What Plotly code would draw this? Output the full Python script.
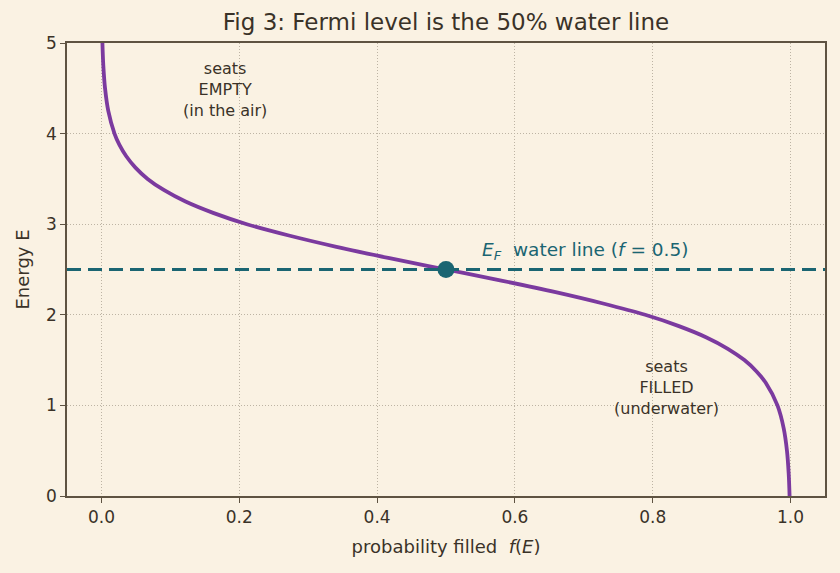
import plotly.graph_objects as go

# Energy levels (y) and occupation probability f(E) (x)
energy = [5.0, 4.75, 4.5, 4.25, 4.0, 3.875, 3.75, 3.625, 3.5, 3.375, 3.25, 3.125, 3.0,
          2.875, 2.75, 2.625, 2.5, 2.375, 2.25, 2.125, 2.0, 1.875, 1.75, 1.625, 1.5,
          1.375, 1.25, 1.0, 0.75, 0.5, 0.25, 0.0]
f_occ = [0.0014, 0.0027, 0.0052, 0.0099, 0.0189, 0.0261, 0.036, 0.0493, 0.067, 0.091,
         0.122, 0.162, 0.211, 0.272, 0.341, 0.418, 0.5, 0.582, 0.659, 0.728, 0.789,
         0.838, 0.878, 0.909, 0.933, 0.9507, 0.964, 0.981, 0.990, 0.9948, 0.9973, 0.9986]
fermi_level = 2.5
fermi_f = 0.5
x_ticks = [0, 0.2, 0.4, 0.6, 0.8, 1.0]
x_ticklabels = ["0.0", "0.2", "0.4", "0.6", "0.8", "1.0"]
y_ticks = [0, 1, 2, 3, 4, 5]

bg = "#faf2e3"
ink = "#3a3228"
frame = "#5e5342"
purple = "#7b3a9f"
teal = "#1a6572"
font = "DejaVu Sans"

fig = go.Figure()
fig.add_trace(go.Scatter(x=f_occ, y=energy, mode="lines", line=dict(color=purple, width=3.8, shape="spline"),
                         showlegend=False, hoverinfo="skip"))
fig.add_trace(go.Scatter(x=[-0.05, 1.05], y=[fermi_level, fermi_level], mode="lines",
                         line=dict(color=teal, width=3, dash="14px,7px"), showlegend=False))
fig.add_trace(go.Scatter(x=[fermi_f], y=[fermi_level], mode="markers",
                         marker=dict(color=teal, size=17), showlegend=False))

fig.add_annotation(x=0.55, y=2.55, xanchor="left", yanchor="bottom", showarrow=False,
                   text="<i>E</i><sub><i>F</i></sub>  water line (<i>f</i> = 0.5)",
                   font=dict(family=font, size=18.5, color=teal))
fig.add_annotation(x=0.18, y=4.49, showarrow=False, text="seats<br>EMPTY<br>(in the air)",
                   font=dict(family=font, size=16, color=ink), align="center")
fig.add_annotation(x=0.82, y=1.2, showarrow=False, text="seats<br>FILLED<br>(underwater)",
                   font=dict(family=font, size=16, color=ink), align="center")

axis_common = dict(showline=True, linecolor=frame, linewidth=1.5, mirror=True, ticks="outside",
                   ticklen=5, tickcolor=frame, tickfont=dict(family=font, size=17, color=ink),
                   showgrid=True, gridcolor="#bdb4a4", griddash="1px,2px", gridwidth=1, zeroline=False)

fig.update_layout(
    width=840, height=573, paper_bgcolor=bg, plot_bgcolor=bg,
    margin=dict(l=67, r=15, t=43, b=77),
    title=dict(text="Fig 3: Fermi level is the 50% water line", xref="paper", x=0.5, xanchor="center",
               yref="container", y=0.962, yanchor="middle", font=dict(family=font, size=23, color=ink)),
    xaxis=dict(range=[-0.05, 1.05], tickvals=x_ticks, ticktext=x_ticklabels,
               title=dict(text="probability filled  <i>f</i>(<i>E</i>)", standoff=14,
                          font=dict(family=font, size=18, color=ink)), **axis_common),
    yaxis=dict(range=[0, 5], tickvals=y_ticks,
               title=dict(text="Energy E", standoff=12, font=dict(family=font, size=18, color=ink)),
               **axis_common),
)

fig.write_html("out.html")
